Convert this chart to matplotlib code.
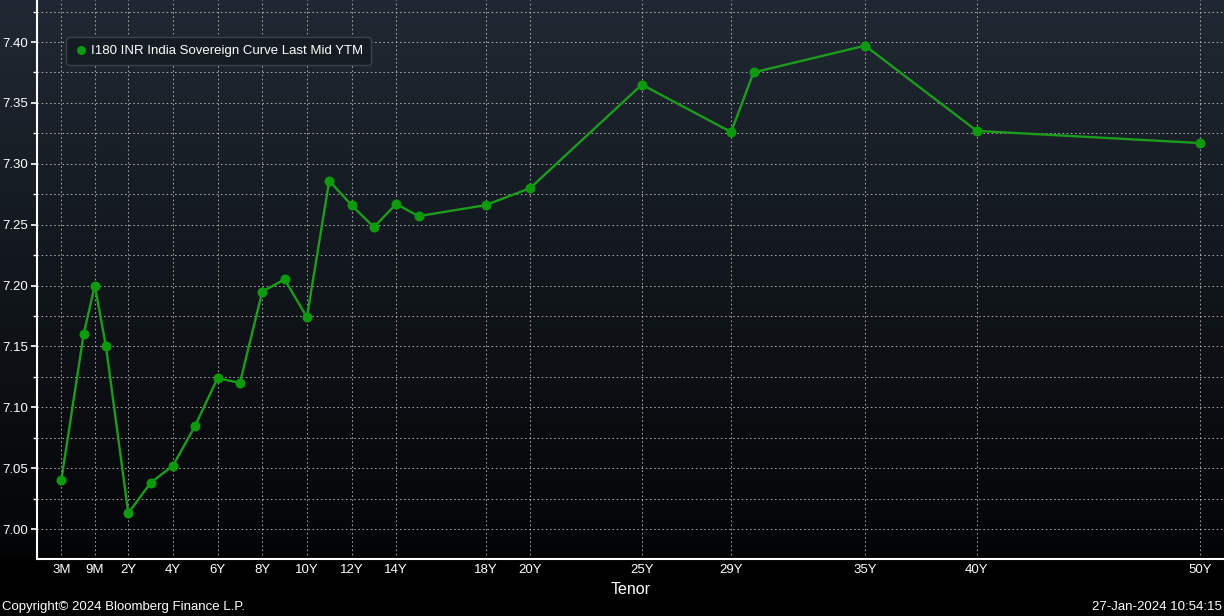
import numpy as np
import matplotlib
matplotlib.use("Agg")
import matplotlib.pyplot as plt
from matplotlib.ticker import FixedLocator, MultipleLocator, FormatStrFormatter
from matplotlib.lines import Line2D

# ---- data ----
tenor_years = [0.25, 0.5, 0.75, 1, 2, 3, 4, 5, 6, 7, 8, 9, 10, 11, 12, 13, 14, 15,
               18, 20, 25, 29, 30, 35, 40, 50]
ytm = [7.040, 7.160, 7.200, 7.150, 7.013, 7.038, 7.052, 7.085, 7.124, 7.120,
       7.195, 7.205, 7.174, 7.286, 7.266, 7.248, 7.267, 7.257,
       7.266, 7.280, 7.365, 7.326, 7.375, 7.397, 7.327, 7.317]
tick_tenors = [0.25, 0.75, 2, 4, 6, 8, 10, 12, 14, 18, 20, 25, 29, 35, 40, 50]
tick_labels = ["3M", "9M", "2Y", "4Y", "6Y", "8Y", "10Y", "12Y", "14Y", "18Y",
               "20Y", "25Y", "29Y", "35Y", "40Y", "50Y"]
series_name = "I180 INR India Sovereign Curve Last Mid YTM"

# tenor axis: short end stretched, linear in years from 1Y
_t_nodes = np.array([-0.25, 0.25, 0.5, 0.75, 1.0, 100.0])
_u_nodes = np.array([-3.0, -1.0, 0.0, 0.5, 1.0, 100.0])
def fwd(t):
    return np.interp(t, _t_nodes, _u_nodes)
def inv(u):
    return np.interp(u, _u_nodes, _t_nodes)

W, H = 1224, 616
fig = plt.figure(figsize=(W / 100, H / 100), dpi=100, facecolor="black")

# background gradient
bg = fig.add_axes([0, 0, 1, 1], zorder=0)
grad = np.linspace(0, 1, 256)[:, None]
top = np.array([0.125, 0.160, 0.200])
bot = np.array([0.0, 0.0, 0.0])
img = top[None, None, :] * (1 - grad[:, :, None]) + bot[None, None, :] * grad[:, :, None]
img = np.clip(img, 0, 1)
bg.imshow(img, aspect="auto", extent=[0, 1, 0, 1], origin="upper")
bg.axhspan(0, (H - 558.5) / H, color="black")
bg.set_xlim(0, 1); bg.set_ylim(0, 1)
bg.axis("off")

left = 36.5 / W
bottom = (H - 558.5) / H
ax = fig.add_axes([left, bottom, 1 - left, 1 - bottom], zorder=1)
ax.set_facecolor("none")
ax.set_xscale("function", functions=(fwd, inv))

ax.plot(tenor_years, ytm, color="#1c9c1c", lw=1.7, marker="o", ms=6.2,
        mfc="#0d9a0d", mec="#0d9a0d", zorder=3)

ax.set_xlim(inv(-2.11), inv(51.07))
ax.set_ylim(6.9758, 7.4345)

font = "Liberation Sans"
ax.set_xticks(tick_tenors)
ax.set_xticklabels(tick_labels, fontsize=9.5, color="white", family=font)
ax.xaxis.set_minor_locator(FixedLocator([]))
ax.yaxis.set_major_locator(MultipleLocator(0.05))
ax.yaxis.set_minor_locator(MultipleLocator(0.025))
ax.yaxis.set_major_formatter(FormatStrFormatter("%.2f"))
for lab in ax.get_yticklabels():
    lab.set_family(font)
ax.tick_params(axis="y", which="major", colors="white", labelsize=9.5, length=4, width=1.2, pad=2)
ax.tick_params(axis="y", which="minor", colors="white", length=3, width=1)
ax.tick_params(axis="x", which="major", colors="white", labelsize=9.5, length=0, pad=4)

ax.grid(True, which="major", axis="both", color="#c8c8c8", ls=(0, (1.5, 2.5)), lw=0.75, alpha=0.8)
ax.grid(True, which="minor", axis="y", color="#c8c8c8", ls=(0, (1.5, 2.5)), lw=0.75, alpha=0.8)

for s in ["top", "right"]:
    ax.spines[s].set_visible(False)
for s in ["left", "bottom"]:
    ax.spines[s].set_color("white")
    ax.spines[s].set_linewidth(1.5)

ax.set_xlabel("Tenor", color="white", fontsize=11.5, family=font, labelpad=4)

handle = Line2D([], [], ls="none", marker="o", ms=5.5, color="#0d9a0d")
leg = ax.legend([handle], [series_name], loc="upper left",
                bbox_to_anchor=((66 - 36.5) / (W - 36.5), (558.5 - 37) / 558.5),
                borderaxespad=0, frameon=True, fancybox=True,
                prop={"family": font, "size": 9.5}, handletextpad=0.3,
                handlelength=1.0, borderpad=0.6)
leg.get_frame().set_facecolor("#151c23")
leg.get_frame().set_edgecolor("#3c4248")
leg.get_frame().set_alpha(1)
for t in leg.get_texts():
    t.set_color("white")

fig.text(2 / W, 1 - 607 / H, "Copyright\u00a9 2024 Bloomberg Finance L.P.", color="white",
         fontsize=9.5, family=font, va="center", ha="left")
fig.text(1 - 2 / W, 1 - 607 / H, "27-Jan-2024 10:54:15", color="white",
         fontsize=9.5, family=font, va="center", ha="right")

fig.savefig("out.png", dpi=100, facecolor="black")
